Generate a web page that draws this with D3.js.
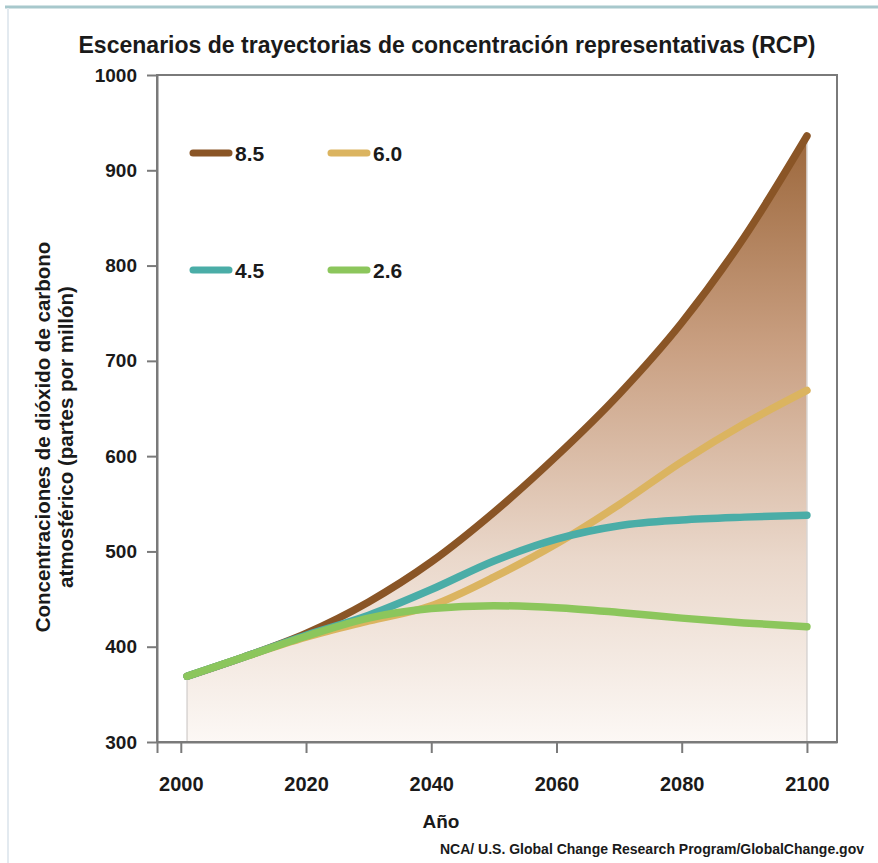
<!DOCTYPE html>
<html>
<head>
<meta charset="utf-8">
<script src="https://cdn.jsdelivr.net/npm/d3@7"></script>
<style>
  body { margin: 0; background: #fff; }
  svg { display: block; font-family: 'Liberation Sans', Arial, sans-serif; }
</style>
</head>
<body>
<svg id="chart" width="878" height="863"></svg>
<script>
// chart data
const years = [2001, 2010, 2020, 2030, 2040, 2050, 2060, 2070, 2080, 2090, 2100];
const rcp85 = [369, 389, 414, 447, 489, 541, 600, 665, 740, 830, 936];
const rcp60 = [369, 389, 410, 427, 443, 473, 508, 549, 594, 634, 669];
const rcp45 = [369, 389, 412, 433, 460, 490, 513, 527, 533, 536, 538];
const rcp26 = [369, 389, 411, 430, 440, 443, 441, 436, 430, 425, 421];
const seriesNames = ['8.5', '6.0', '4.5', '2.6'];
const xTicks = [2000, 2020, 2040, 2060, 2080, 2100];
const yTicks = [300, 400, 500, 600, 700, 800, 900, 1000];

const colors = { '8.5': '#8a5526', '6.0': '#dbb460', '4.5': '#4aada7', '2.6': '#8cc65c' };
const series = [
    { name: '8.5', values: rcp85 },
    { name: '6.0', values: rcp60 },
    { name: '4.5', values: rcp45 },
    { name: '2.6', values: rcp26 }
];

const svg = d3.select('#chart');
const plot = { left: 157, right: 837, top: 75, bottom: 742 };

// page decoration: thin teal rule at top, faint rule on the left
svg.append('line').attr('x1', 5).attr('x2', 878).attr('y1', 7).attr('y2', 7)
    .attr('stroke', '#a7c8cc').attr('stroke-width', 3);
svg.append('line').attr('x1', 8).attr('x2', 8).attr('y1', 8).attr('y2', 863)
    .attr('stroke', '#e3eaf0').attr('stroke-width', 2);

const x = d3.scaleLinear().domain([1996.2, 2104.8]).range([plot.left, plot.right]);
const y = d3.scaleLinear().domain([300, 1000]).range([plot.bottom, plot.top]);

// gradient for the area under 8.5
const grad = svg.append('defs').append('linearGradient')
    .attr('id', 'fillGrad').attr('gradientUnits', 'userSpaceOnUse')
    .attr('x1', 0).attr('x2', 0).attr('y1', y(940)).attr('y2', y(300));
grad.append('stop').attr('offset', 0).attr('stop-color', '#9b663a');
grad.append('stop').attr('offset', 0.35).attr('stop-color', '#c99f81');
grad.append('stop').attr('offset', 0.7).attr('stop-color', '#ead8cb');
grad.append('stop').attr('offset', 1).attr('stop-color', '#fcf8f5');

const pts = (vals) => years.map((yr, i) => [yr, vals[i]]);

const area = d3.area()
    .x(d => x(d[0]))
    .y0(y(300))
    .y1(d => y(d[1]))
    .curve(d3.curveMonotoneX);

svg.append('path')
    .datum(pts(rcp85))
    .attr('d', area)
    .attr('fill', 'url(#fillGrad)');

// faint vertical edges of the filled area
[0, years.length - 1].forEach(i => {
    svg.append('line')
        .attr('x1', x(years[i])).attr('x2', x(years[i]))
        .attr('y1', y(rcp85[i])).attr('y2', y(300))
        .attr('stroke', '#d8d4d2').attr('stroke-width', 1.5);
});

// frame (top + right)
svg.append('rect')
    .attr('x', plot.left).attr('y', plot.top)
    .attr('width', plot.right - plot.left).attr('height', plot.bottom - plot.top)
    .attr('fill', 'none').attr('stroke', '#7a7a7a').attr('stroke-width', 2);

const line = d3.line()
    .x(d => x(d[0]))
    .y(d => y(d[1]))
    .curve(d3.curveMonotoneX);

svg.append('g')
    .selectAll('path')
    .data(series)
    .join('path')
    .attr('d', d => line(pts(d.values)))
    .attr('fill', 'none')
    .attr('stroke', d => colors[d.name])
    .attr('stroke-width', 7.5)
    .attr('stroke-linecap', 'round');

// axes
const xAxis = svg.append('g')
    .attr('transform', `translate(0, ${plot.bottom})`)
    .call(d3.axisBottom(x)
        .tickValues([1996.2].concat(xTicks))
        .tickFormat(d => xTicks.includes(d) ? String(d) : '')
        .tickSize(11).tickSizeOuter(0).tickPadding(24));

const yAxis = svg.append('g')
    .attr('transform', `translate(${plot.left}, 0)`)
    .call(d3.axisLeft(y).tickValues(yTicks).tickFormat(d3.format('d'))
        .tickSize(10).tickSizeOuter(0).tickPadding(10));

[xAxis, yAxis].forEach(g => {
    g.select('.domain').attr('stroke', '#7a7a7a').attr('stroke-width', 2);
    g.selectAll('.tick line').attr('stroke', '#7a7a7a').attr('stroke-width', 2);
    g.selectAll('text').attr('fill', '#1a1a1a').style('font-weight', 'bold')
        .style('font-family', "'Liberation Sans', Arial, sans-serif");
});
xAxis.selectAll('text').style('font-size', '20px');
yAxis.selectAll('text').style('font-size', '19px');

// title
svg.append('text')
    .attr('x', 447).attr('y', 53)
    .attr('text-anchor', 'middle')
    .attr('textLength', 737).attr('lengthAdjust', 'spacingAndGlyphs')
    .style('font-family', "'Liberation Sans Narrow', 'Liberation Sans', Arial, sans-serif")
    .style('font-size', '24px').style('font-weight', 'bold').attr('fill', '#1a1a1a')
    .text('Escenarios de trayectorias de concentración representativas (RCP)');

// axis titles
const yLabel = svg.append('text')
    .attr('transform', 'translate(50, 437) rotate(-90)')
    .attr('text-anchor', 'middle')
    .style('font-size', '20.5px').style('font-weight', 'bold').attr('fill', '#1a1a1a');
yLabel.append('tspan').attr('x', 0).attr('dy', 0).text('Concentraciones de dióxido de carbono');
yLabel.append('tspan').attr('x', 0).attr('dy', 23).text('atmosférico (partes por millón)');

svg.append('text')
    .attr('x', 441).attr('y', 828)
    .attr('text-anchor', 'middle')
    .style('font-size', '19px').style('font-weight', 'bold').attr('fill', '#1a1a1a')
    .text('Año');

svg.append('text')
    .attr('x', 440).attr('y', 854)
    .style('font-size', '14px').style('font-weight', 'bold').attr('fill', '#1a1a1a')
    .text('NCA/ U.S. Global Change Research Program/GlobalChange.gov');

// legend
const legendPos = [[193, 153], [331, 153], [193, 270], [331, 270]];
const legend = svg.append('g')
    .selectAll('g')
    .data(seriesNames)
    .join('g')
    .attr('transform', (d, i) => `translate(${legendPos[i][0]}, ${legendPos[i][1]})`);

legend.append('line')
    .attr('x1', 0).attr('x2', 36)
    .attr('stroke', d => colors[d])
    .attr('stroke-width', 7)
    .attr('stroke-linecap', 'round');

legend.append('text')
    .attr('x', 42).attr('y', 8)
    .style('font-size', '21px').style('font-weight', 'bold').attr('fill', '#1a1a1a')
    .text(d => d);
</script>
</body>
</html>
